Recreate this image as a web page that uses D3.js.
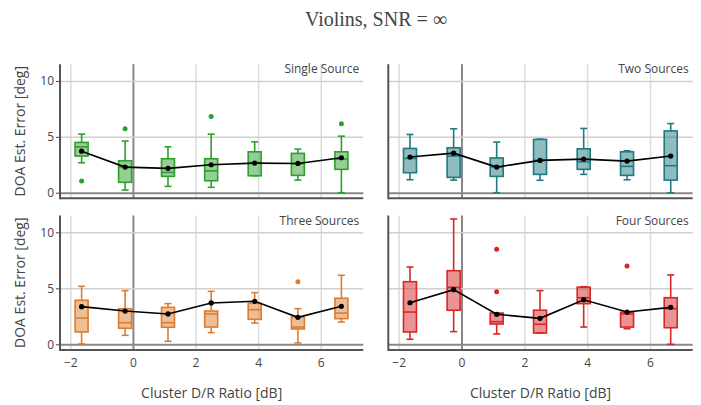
<!DOCTYPE html>
<html>
<head>
<meta charset="utf-8">
<script src="https://cdn.jsdelivr.net/npm/d3@7"></script>
<style>
  body { margin: 0; background: #fff; }
  svg { font-family: "Open Sans", sans-serif; }
</style>
</head>
<body>
<svg id="chart" width="701" height="405"></svg>
<script>
// cluster D/R ratio positions (dB)
const ratios = [-1.64, -0.25, 1.12, 2.5, 3.89, 5.27, 6.66];
const panelNames = ["Single Source", "Two Sources", "Three Sources", "Four Sources"];
const colors = ["#2ca02c", "#1f7a80", "#dd7d30", "#d62728"];

// box stats per panel, one value per ratio
const lowFence = [
  [2.68, 0.24, 0.57, 0.48, 1.52, 1.13, 0.0],
  [1.16, 1.13, 0.0, 1.11, 1.64, 1.16, 0.0],
  [0.03, 0.8, 0.27, 1.04, 1.9, 0.12, 1.99],
  [0.45, 1.13, 0.92, 1.01, 1.54, 1.39, 0.0]
];
const q1 = [
  [3.28, 0.93, 1.46, 1.07, 1.52, 1.55, 2.09],
  [1.79, 1.37, 1.46, 1.64, 2.09, 1.55, 1.13],
  [1.1, 1.43, 1.52, 1.54, 2.23, 1.37, 2.29],
  [1.1, 3.04, 1.81, 1.01, 3.63, 1.54, 1.48]
];
const medians = [
  [4.1, 2.3, 1.82, 1.96, 2.7, 2.6, 3.01],
  [3.07, 3.28, 2.3, 2.9, 2.77, 2.36, 2.42],
  [2.35, 1.93, 1.93, 2.71, 3.09, 1.54, 2.79],
  [2.88, 5.09, 2.02, 1.79, 4.16, 2.71, 3.18]
];
const q3 = [
  [4.5, 2.86, 3.04, 3.04, 3.66, 3.52, 3.66],
  [3.96, 4.02, 3.11, 4.77, 3.93, 3.66, 5.53],
  [3.93, 3.18, 3.3, 2.97, 3.66, 2.44, 4.11],
  [5.59, 6.57, 2.79, 3.04, 5.1, 2.86, 4.16]
];
const highFence = [
  [5.24, 4.62, 4.11, 5.24, 4.55, 3.9, 5.06],
  [5.21, 5.72, 4.53, 4.79, 5.75, 3.75, 6.19],
  [5.18, 4.79, 3.63, 4.73, 4.61, 3.18, 6.16],
  [6.9, 11.19, 2.79, 4.79, 5.14, 2.86, 6.19]
];
const means = [
  [3.72, 2.29, 2.18, 2.5, 2.65, 2.62, 3.13],
  [3.19, 3.54, 2.29, 2.89, 3.01, 2.83, 3.28],
  [3.36, 2.97, 2.71, 3.69, 3.84, 2.41, 3.39],
  [3.71, 4.88, 2.68, 2.32, 3.98, 2.88, 3.3]
];
// outliers: [ratio index, value]
const outliers = [
  [[0, 1.04], [1, 5.72], [3, 6.82], [6, 6.16]],
  [],
  [[5, 5.59]],
  [[2, 8.48], [2, 4.7], [5, 6.99]]
];
const xTicks = [-2, 0, 2, 4, 6];
const yTicks = [0, 5, 10];

const svg = d3.select("#chart");

svg.append("text")
  .attr("x", 376).attr("y", 26)
  .attr("text-anchor", "middle")
  .attr("font-family", "'Liberation Serif', serif")
  .attr("font-size", 20).attr("fill", "#444")
  .text("Violins, SNR = \u221E");

const cols = [[60, 363.3], [388.3, 692.7]];
const rows = [[64.2, 198.3], [215.5, 349.9]];

panelNames.forEach((name, p) => {
  const col = cols[p % 2], row = rows[Math.floor(p / 2)];
  const x = d3.scaleLinear().domain([-2.33, 7.36]).range(col);
  const y = d3.scaleLinear().domain([-0.5, 11.5]).range([row[1], row[0]]);
  const g = svg.append("g");
  const color = colors[p];

  // grid
  g.append("g").attr("transform", `translate(0,${row[1]})`)
    .call(d3.axisBottom(x).tickValues(xTicks).tickSize(-(row[1] - row[0])).tickFormat(""))
    .call(a => a.select(".domain").remove())
    .selectAll("line").attr("stroke", (d) => d === 0 ? "#888" : "#dcdcdc").attr("stroke-width", (d) => d === 0 ? 2 : 1.5);
  g.append("g").attr("transform", `translate(${col[0]},0)`)
    .call(d3.axisLeft(y).tickValues(yTicks).tickSize(-(col[1] - col[0])).tickFormat(""))
    .call(a => a.select(".domain").remove())
    .selectAll("line").attr("stroke", (d) => d === 0 ? "#888" : "#d0d0d0").attr("stroke-width", (d) => d === 0 ? 2 : 1.5);

  // tick labels (left column only)
  if (p % 2 === 0) {
    const yAx = g.append("g").attr("transform", `translate(${col[0]},0)`)
      .call(d3.axisLeft(y).tickValues(yTicks).tickSize(4).tickPadding(2).tickFormat(d3.format("d")));
    yAx.select(".domain").remove();
    yAx.selectAll("line").attr("stroke", "#444");
    yAx.selectAll("text").attr("font-size", 12).attr("fill", "#444").attr("font-family", "'Open Sans', sans-serif");
  }

  if (p >= 2) {
    const xAx = g.append("g").attr("transform", `translate(0,${row[1]})`)
      .call(d3.axisBottom(x).tickValues(xTicks).tickSize(0).tickPadding(9).tickFormat(d => d < 0 ? "\u2212" + Math.abs(d) : d));
    xAx.select(".domain").remove();
    xAx.selectAll("text").attr("font-size", 12).attr("fill", "#444").attr("font-family", "'Open Sans', sans-serif");
  }

  // axis lines
  g.append("line").attr("x1", col[0]).attr("x2", col[1]).attr("y1", row[1]).attr("y2", row[1])
    .attr("stroke", "#555").attr("stroke-width", 2);
  g.append("line").attr("x1", col[0]).attr("x2", col[0]).attr("y1", row[0]).attr("y2", row[1] + 1)
    .attr("stroke", "#555").attr("stroke-width", 2);

  // boxes
  const bw = 13, cap = 7;
  ratios.forEach((r, i) => {
    const cx = x(r);
    const b = g.append("g").attr("stroke", color).attr("stroke-width", 1.6);
    b.append("line").attr("x1", cx).attr("x2", cx).attr("y1", y(highFence[p][i])).attr("y2", y(q3[p][i]));
    b.append("line").attr("x1", cx).attr("x2", cx).attr("y1", y(q1[p][i])).attr("y2", y(lowFence[p][i]));
    b.append("line").attr("x1", cx - cap / 2).attr("x2", cx + cap / 2).attr("y1", y(highFence[p][i])).attr("y2", y(highFence[p][i]));
    b.append("line").attr("x1", cx - cap / 2).attr("x2", cx + cap / 2).attr("y1", y(lowFence[p][i])).attr("y2", y(lowFence[p][i]));
    b.append("rect").attr("x", cx - bw / 2).attr("width", bw)
      .attr("y", y(q3[p][i])).attr("height", Math.max(0.5, y(q1[p][i]) - y(q3[p][i])))
      .attr("fill", color).attr("fill-opacity", 0.5);
    b.append("line").attr("x1", cx - bw / 2).attr("x2", cx + bw / 2).attr("y1", y(medians[p][i])).attr("y2", y(medians[p][i]));
  });

  g.selectAll(".out").data(outliers[p]).enter().append("circle")
    .attr("cx", d => x(ratios[d[0]])).attr("cy", d => y(d[1])).attr("r", 2.5).attr("fill", color);

  // mean line
  g.append("path").datum(means[p])
    .attr("d", d3.line().x((d, i) => x(ratios[i])).y(d => y(d)))
    .attr("fill", "none").attr("stroke", "#000").attr("stroke-width", 1.6);
  g.selectAll(".mean").data(means[p]).enter().append("circle")
    .attr("cx", (d, i) => x(ratios[i])).attr("cy", d => y(d)).attr("r", 2.6).attr("fill", "#000");

  // panel label
  g.append("text").attr("x", col[1] - 4).attr("y", row[0] + 9)
    .attr("text-anchor", "end").attr("font-size", 12).attr("fill", "#444").text(name);

  if (p % 2 === 0) {
    const cy = (row[0] + row[1]) / 2;
    g.append("text").attr("transform", `translate(25,${cy}) rotate(-90)`)
      .attr("text-anchor", "middle").attr("font-size", 14).attr("fill", "#444")
      .text("DOA Est. Error [deg]");
  }
  if (p >= 2) {
    g.append("text").attr("x", (col[0] + col[1]) / 2).attr("y", 398)
      .attr("text-anchor", "middle").attr("font-size", 14).attr("fill", "#444")
      .text("Cluster D/R Ratio [dB]");
  }
});
</script>
</body>
</html>
